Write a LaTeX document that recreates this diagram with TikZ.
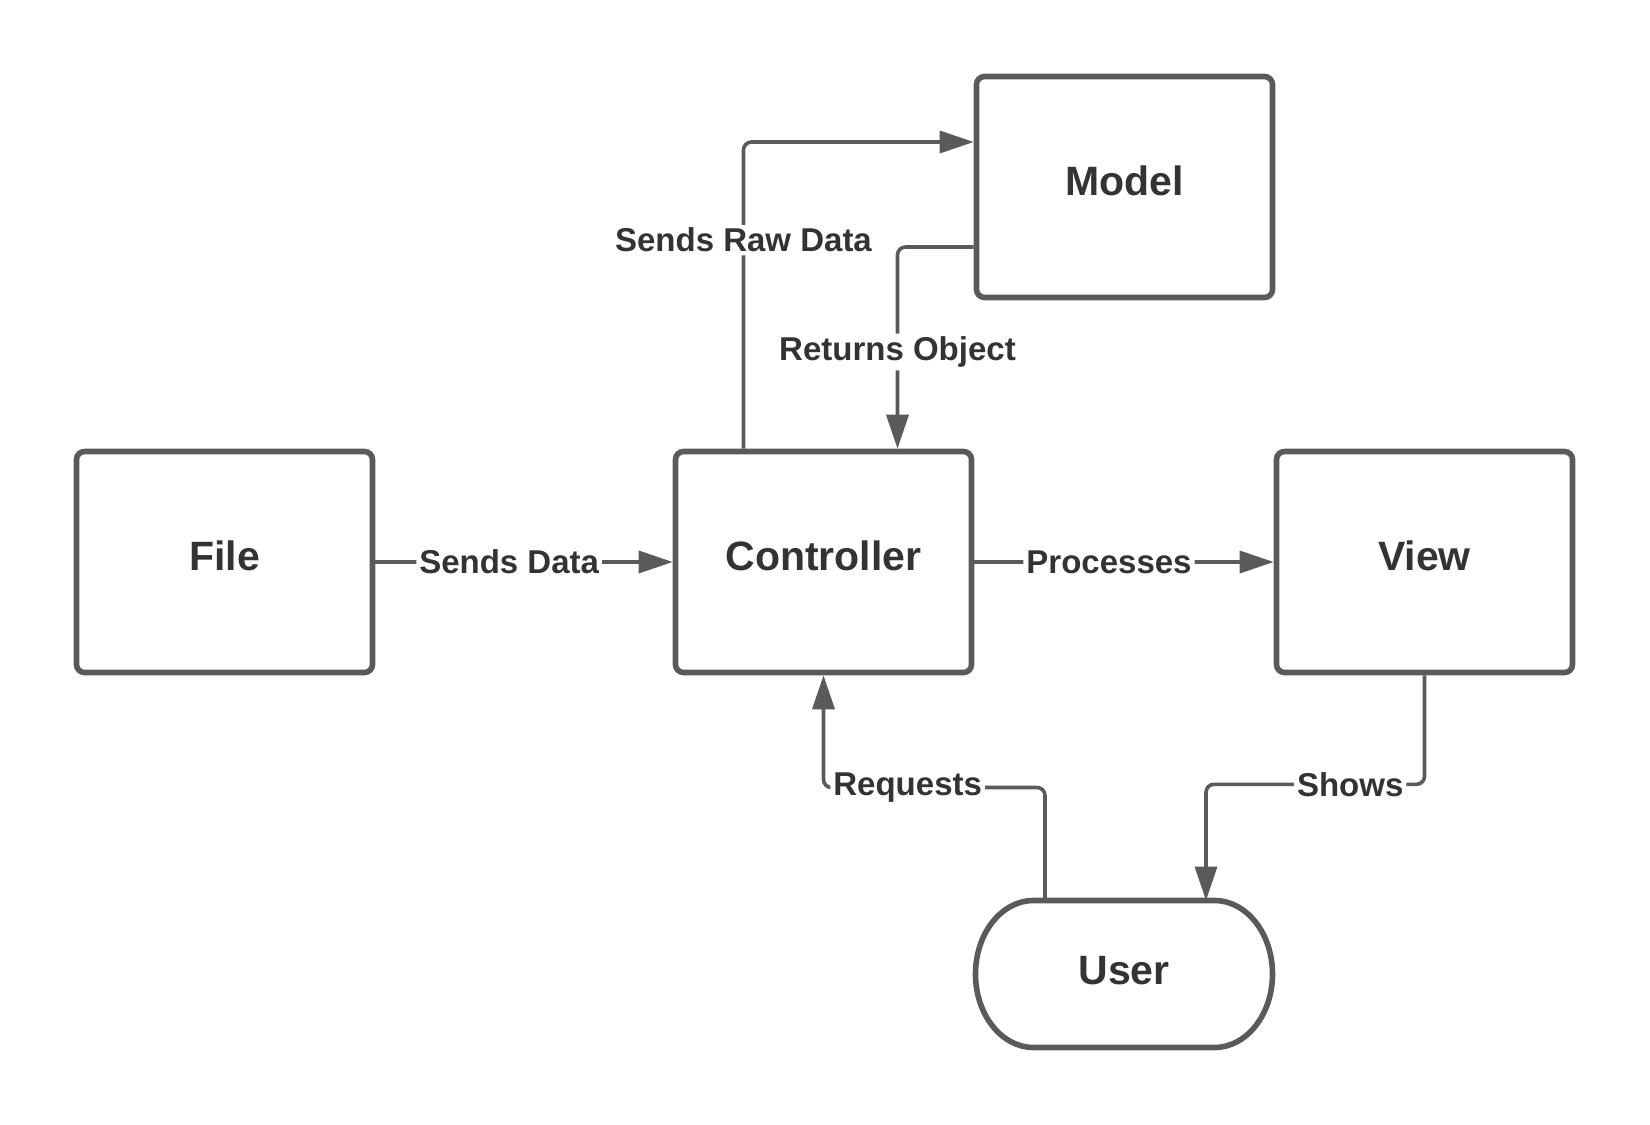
\documentclass[tikz,border=0pt]{standalone}
\usepackage{fontspec}
\setmainfont{Liberation Sans}
\usetikzlibrary{arrows.meta}
\definecolor{edgegray}{HTML}{5A5A5A}
\definecolor{textgray}{HTML}{333333}
\begin{document}
\begin{tikzpicture}[x=0.5pt,y=-0.5pt,>={Triangle[length=17pt,width=11pt]}]
	\tikzset{box/.style={draw=edgegray,line width=2.8pt,rounded corners=4pt,
			minimum width=148pt,minimum height=110.5pt,text=textgray,text depth=6pt,
			font=\fontsize{20.5}{24}\selectfont\bfseries},
		flow/.style={color=edgegray,line width=1.8pt,->,rounded corners=4pt},
		lbl/.style={fill=white,text=textgray,inner sep=1.5pt,
			font=\fontsize{16.5}{19}\selectfont\bfseries}}
	\useasboundingbox (0,0) rectangle (1650,1125);
	\foreach \n/\x/\y in {Model/1124.5/187,File/224.5/562,Controller/823.5/562,View/1424.5/562}{
			\node[box] (\n) at (\x,\y) {\n};}
	\node[inner sep=0pt,outer sep=0pt,minimum width=148.5pt,minimum height=73.5pt,text=textgray,
		text depth=4pt,font=\fontsize{20.5}{24}\selectfont\bfseries] (User) at (1124,974) {User};
	\draw[edgegray,line width=2.8pt] ([xshift=29pt]User.north west) -- ([xshift=-29pt]User.north east)
		arc[start angle=90,end angle=-90,x radius=29pt,y radius=36.75pt]
		-- ([xshift=29pt]User.south west)
		arc[start angle=270,end angle=90,x radius=29pt,y radius=36.75pt] -- cycle;
	\draw[flow] (File.east) -- node[lbl,pos=0.45]{Sends Data} (Controller.west);
	\draw[flow] (Controller.east) -- node[lbl,pos=0.45]{Processes} (View.west);
	\draw[flow] ([xshift=-40pt]Controller.north) |- node[lbl,pos=0.34]{Sends Raw Data} ([yshift=22.5pt]Model.west);
	\draw[flow] ([yshift=-30pt]Model.west) -| node[lbl,pos=0.76]{Returns Object} ([xshift=37pt]Controller.north);
	\draw[flow] ([xshift=-39.5pt]User.north) -- ++(0,-113) -| node[lbl,pos=0.31]{Requests} (Controller.south);
	\draw[flow] (View.south) -- ++(0,109) -| node[lbl,pos=0.17]{Shows} ([xshift=41pt]User.north);
\end{tikzpicture}
\end{document}
